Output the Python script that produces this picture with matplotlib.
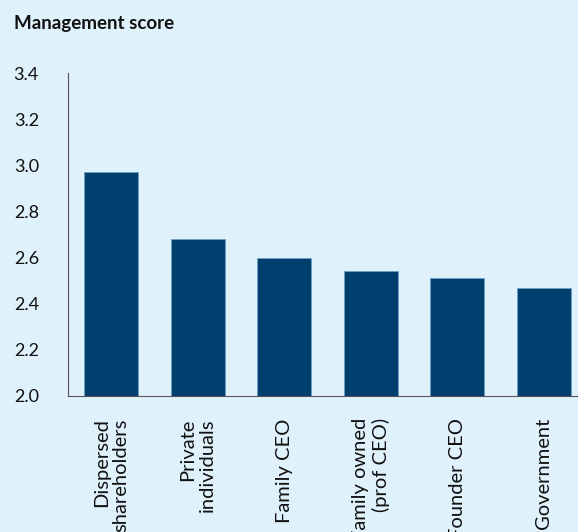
import matplotlib.pyplot as plt

categories = ['Dispersed\nshareholders', 'Private\nindividuals', 'Family CEO',
              'Family owned\n(prof CEO)', 'Founder CEO', 'Government']
scores = [2.97, 2.68, 2.60, 2.54, 2.51, 2.47]
yticks = [2.0, 2.2, 2.4, 2.6, 2.8, 3.0, 3.2, 3.4]

bg = '#dff1fb'
bar_color = '#003f6e'

plt.rcParams['font.family'] = ['Lato', 'DejaVu Sans']

fig = plt.figure(figsize=(5.78, 5.32), dpi=100, facecolor=bg)
ax = fig.add_axes([68 / 578, 1 - 396 / 532, (587 - 68) / 578, (396 - 73) / 532])
ax.set_facecolor(bg)

ax.bar(range(len(categories)), scores, width=0.62, bottom=0, color=bar_color,
       edgecolor='#6f9fc4', linewidth=0.6)

ax.set_ylim(2.0, 3.4)
ax.set_xlim(-0.5, 5.5)
ax.set_yticks(yticks)
ax.set_yticklabels(['%.1f' % v for v in yticks], fontsize=13, color='#111111')
ax.set_xticks(range(len(categories)))
ax.set_xticklabels(categories, rotation=90, fontsize=14.5, color='#111111',
                   multialignment='right', linespacing=1.2)
ax.tick_params(axis='x', length=0, pad=16)
ax.tick_params(axis='y', length=0, pad=21)

for s in ['top', 'right']:
    ax.spines[s].set_visible(False)
ax.spines['left'].set_color('#555555')
ax.spines['bottom'].set_color('#555555')

fig.text(14 / 578, 1 - 24 / 532, 'Management score', fontsize=13.5,
         fontweight='bold', va='center', ha='left', color='#111111')

fig.savefig('out.png', dpi=100, facecolor=bg)
